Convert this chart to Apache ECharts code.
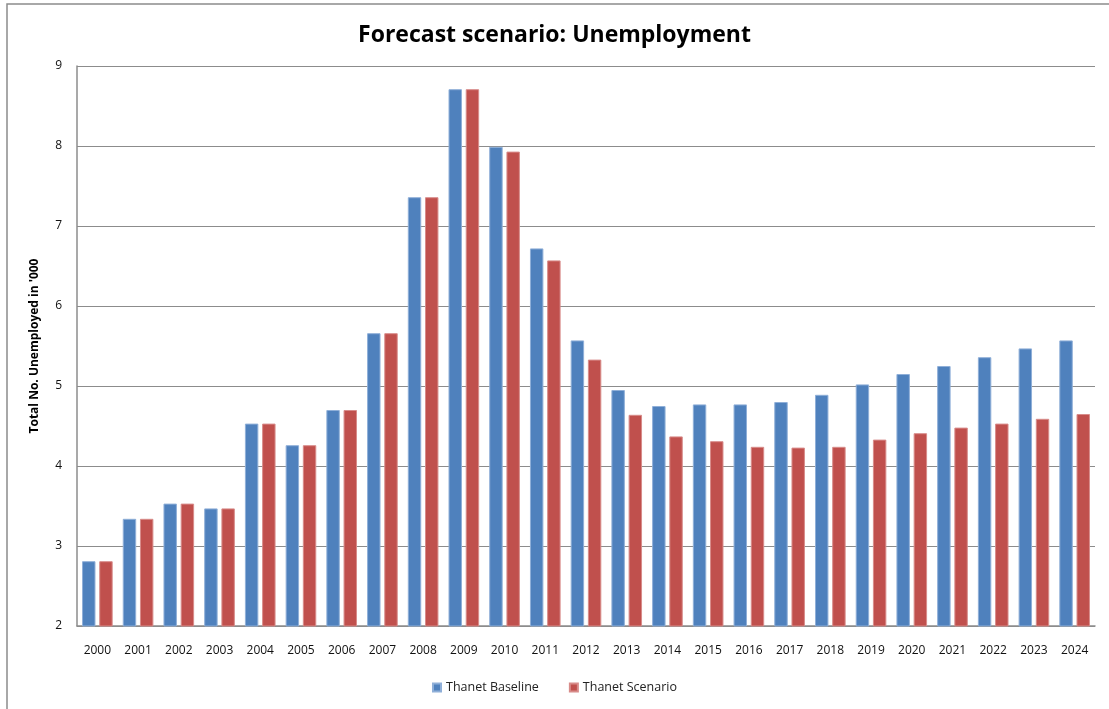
<!DOCTYPE html>
<html>
<head>
<meta charset="utf-8">
<script src="https://cdn.jsdelivr.net/npm/echarts@6/dist/echarts.min.js"></script>
<style>
  html, body { margin: 0; padding: 0; background: #fff; }
  #chart { width: 1109px; height: 709px; }
</style>
</head>
<body>
<div id="chart"></div>
<script>
// Years on the category axis
const years = ['2000','2001','2002','2003','2004','2005','2006','2007','2008','2009','2010','2011','2012',
  '2013','2014','2015','2016','2017','2018','2019','2020','2021','2022','2023','2024'];

// Total unemployed, thousands
const baseline = [2.81, 3.34, 3.53, 3.47, 4.53, 4.26, 4.70, 5.66, 7.36, 8.71, 7.99, 6.72, 5.57,
  4.95, 4.75, 4.77, 4.77, 4.80, 4.89, 5.02, 5.15, 5.25, 5.36, 5.47, 5.57];
const scenario = [2.81, 3.34, 3.53, 3.47, 4.53, 4.26, 4.70, 5.66, 7.36, 8.71, 7.93, 6.57, 5.33,
  4.64, 4.37, 4.31, 4.24, 4.23, 4.24, 4.33, 4.41, 4.48, 4.53, 4.59, 4.65];

const seriesNames = ['Thanet Baseline', 'Thanet Scenario'];
const yTicks = { min: 2, max: 9, interval: 1 };

const font = '"Open Sans", "DejaVu Sans", sans-serif';
const chart = echarts.init(document.getElementById('chart'), null, { renderer: 'canvas' });

chart.setOption({
  animation: false,
  backgroundColor: '#ffffff',
  graphic: [{
    type: 'rect',
    shape: { x: 7, y: 4, width: 1120, height: 720 },
    style: { fill: 'none', stroke: '#8c8c8c', lineWidth: 1.5 },
    silent: true
  }],
  title: {
    text: 'Forecast scenario: Unemployment',
    left: 'center',
    top: 19,
    textStyle: { fontFamily: font, fontSize: 23, fontWeight: 'bold', color: '#000' }
  },
  legend: {
    data: seriesNames,
    bottom: 10,
    left: 'center',
    itemWidth: 8,
    itemHeight: 8,
    itemGap: 30,
    icon: 'rect',
    textStyle: { fontFamily: font, fontSize: 12.5, color: '#222' }
  },
  grid: { left: 77, right: 14, top: 66, bottom: 83, containLabel: false },
  xAxis: {
    type: 'category',
    data: years,
    axisLine: { lineStyle: { color: '#8c8c8c', width: 1.5 } },
    axisTick: { show: false },
    axisLabel: { fontFamily: font, fontSize: 12, color: '#111', margin: 19, interval: 0 }
  },
  yAxis: {
    type: 'value',
    min: yTicks.min,
    max: yTicks.max,
    interval: yTicks.interval,
    name: "Total No. Unemployed in '000",
    nameLocation: 'middle',
    nameGap: 36,
    nameTextStyle: { fontFamily: font, fontSize: 12, fontWeight: 'bold', color: '#000' },
    axisLine: { show: true, lineStyle: { color: '#8c8c8c', width: 1.5 } },
    axisTick: { show: false },
    axisLabel: { fontFamily: font, fontSize: 12, color: '#111', margin: 15 },
    splitLine: { lineStyle: { color: '#8c8c8c', width: 1.2 } }
  },
  series: [
    {
      name: seriesNames[0],
      type: 'bar',
      data: baseline,
      barWidth: '33%',
      barGap: '28%',
      itemStyle: { color: '#4F81BD', borderColor: '#8fafd8', borderWidth: 1 }
    },
    {
      name: seriesNames[1],
      type: 'bar',
      data: scenario,
      barWidth: '33%',
      itemStyle: { color: '#C0504D', borderColor: '#d88c8a', borderWidth: 1 }
    }
  ]
});
</script>
</body>
</html>
